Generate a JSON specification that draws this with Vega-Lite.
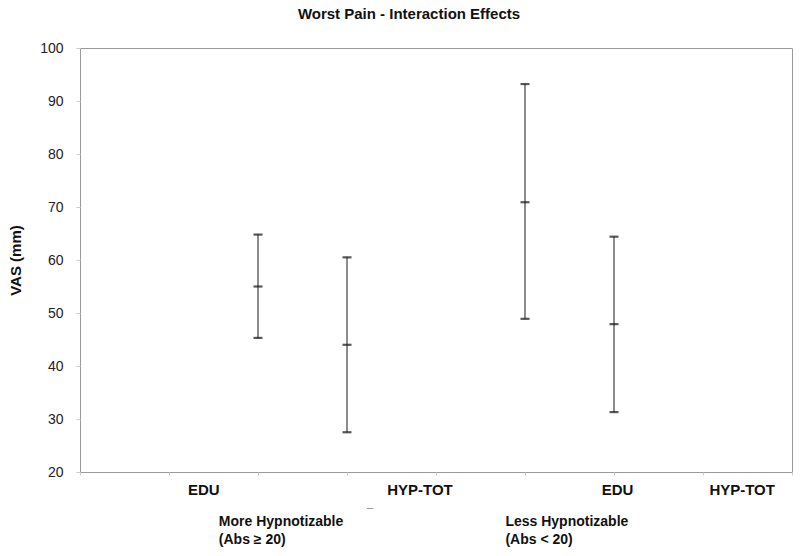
{
  "$schema": "https://vega.github.io/schema/vega-lite/v6.json",
  "width": 712,
  "height": 424,
  "autosize": {"type": "none"},
  "padding": {"left": 80, "top": 48, "right": 8, "bottom": 84},
  "background": "white",
  "config": {
    "font": "Liberation Sans",
    "view": {"stroke": "#9a9a9a", "strokeWidth": 1},
    "axisY": {
      "grid": false,
      "domain": false,
      "tickColor": "#cccccc",
      "tickSize": 4,
      "labelFontSize": 14,
      "labelColor": "#222222",
      "labelPadding": 13,
      "titleFontSize": 15,
      "titleFontWeight": "bold",
      "titleColor": "#111111",
      "titlePadding": 16
    }
  },
  "title": {
    "text": "Worst Pain - Interaction Effects",
    "fontSize": 15,
    "fontWeight": "bold",
    "color": "#111111",
    "anchor": "middle",
    "frame": "group",
    "offset": 19,
    "dx": -27
  },
  "datasets": {
    "bars": [
      {"group": "More Hypnotizable", "treatment": "EDU", "pos": 2, "low": 45.3, "mean": 55.0, "high": 64.8},
      {"group": "More Hypnotizable", "treatment": "HYP-TOT", "pos": 3, "low": 27.5, "mean": 44.0, "high": 60.5},
      {"group": "Less Hypnotizable", "treatment": "EDU", "pos": 5, "low": 48.9, "mean": 70.9, "high": 93.2},
      {"group": "Less Hypnotizable", "treatment": "HYP-TOT", "pos": 6, "low": 31.3, "mean": 47.9, "high": 64.4}
    ],
    "xlabels": [
      {"label": "EDU", "pos": 1.39, "v": 16.6},
      {"label": "HYP-TOT", "pos": 3.82, "v": 16.6},
      {"label": "EDU", "pos": 6.04, "v": 16.6},
      {"label": "HYP-TOT", "pos": 7.44, "v": 16.6}
    ],
    "glabels": [
      {"label": "More Hypnotizable", "pos": 1.56, "v": 10.6},
      {"label": "(Abs ≥ 20)", "pos": 1.56, "v": 7.2},
      {"label": "Less Hypnotizable", "pos": 4.78, "v": 10.6},
      {"label": "(Abs < 20)", "pos": 4.78, "v": 7.2}
    ],
    "dash": [
      {"label": "–", "pos": 3.26, "v": 13.2}
    ]
  },
  "encoding": {
    "x": {
      "field": "pos",
      "type": "quantitative",
      "scale": {"domain": [0, 8], "nice": false, "zero": false},
      "axis": {
        "values": [0, 1, 2, 3, 4, 5, 6, 7, 8],
        "labels": false,
        "grid": false,
        "domain": false,
        "tickColor": "#cccccc",
        "tickSize": 3,
        "title": null
      }
    }
  },
  "layer": [
    {
      "data": {"name": "bars"},
      "mark": {"type": "rule", "color": "#666666", "strokeWidth": 1.5},
      "encoding": {
        "y": {"field": "low", "type": "quantitative", "scale": {"domain": [20, 100], "nice": false, "zero": false}, "title": "VAS (mm)"},
        "y2": {"field": "high"}
      }
    },
    {
      "data": {"name": "bars"},
      "mark": {"type": "tick", "orient": "horizontal", "color": "#111111", "size": 9, "thickness": 2.2},
      "encoding": {
        "y": {"field": "low", "type": "quantitative", "scale": {"domain": [20, 100], "nice": false, "zero": false}, "title": "VAS (mm)"}
      }
    },
    {
      "data": {"name": "bars"},
      "mark": {"type": "tick", "orient": "horizontal", "color": "#111111", "size": 9, "thickness": 2.2},
      "encoding": {
        "y": {"field": "mean", "type": "quantitative", "scale": {"domain": [20, 100], "nice": false, "zero": false}, "title": "VAS (mm)"}
      }
    },
    {
      "data": {"name": "bars"},
      "mark": {"type": "tick", "orient": "horizontal", "color": "#111111", "size": 9, "thickness": 2.2},
      "encoding": {
        "y": {"field": "high", "type": "quantitative", "scale": {"domain": [20, 100], "nice": false, "zero": false}, "title": "VAS (mm)"}
      }
    },
    {
      "data": {"name": "xlabels"},
      "mark": {"type": "text", "fontSize": 15, "fontWeight": "bold", "color": "#111111", "align": "center", "baseline": "middle"},
      "encoding": {
        "y": {"field": "v", "type": "quantitative", "scale": {"domain": [20, 100], "nice": false, "zero": false}, "title": "VAS (mm)"},
        "text": {"field": "label"}
      }
    },
    {
      "data": {"name": "glabels"},
      "mark": {"type": "text", "fontSize": 14, "fontWeight": "bold", "color": "#111111", "align": "left", "baseline": "middle"},
      "encoding": {
        "y": {"field": "v", "type": "quantitative", "scale": {"domain": [20, 100], "nice": false, "zero": false}, "title": "VAS (mm)"},
        "text": {"field": "label"}
      }
    },
    {
      "data": {"name": "dash"},
      "mark": {"type": "text", "fontSize": 12, "color": "#999999", "align": "center", "baseline": "middle"},
      "encoding": {
        "y": {"field": "v", "type": "quantitative", "scale": {"domain": [20, 100], "nice": false, "zero": false}, "title": "VAS (mm)"},
        "text": {"field": "label"}
      }
    }
  ]
}
